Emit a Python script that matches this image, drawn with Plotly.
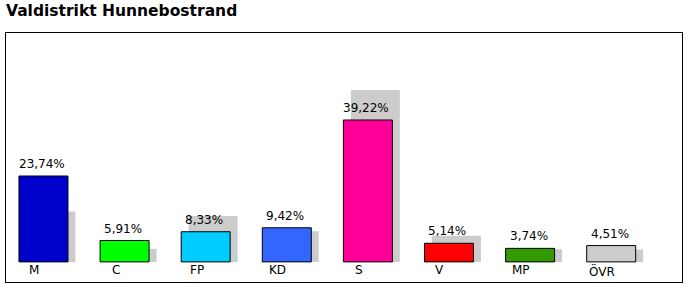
import plotly.graph_objects as go

categories = ["M", "C", "FP", "KD", "S", "V", "MP", "ÖVR"]
values = [23.74, 5.91, 8.33, 9.42, 39.22, 5.14, 3.74, 4.51]
previous = [13.9, 3.6, 12.7, 8.5, 47.5, 7.2, 3.5, 3.4]
colors = ["#0000cc", "#00ff00", "#00ccff", "#3366ff", "#ff0099", "#ff0000", "#339900", "#cccccc"]
value_labels = ["23,74%", "5,91%", "8,33%", "9,42%", "39,22%", "5,14%", "3,74%", "4,51%"]

W, H = 688, 287
xs = list(range(len(categories)))
FONT = "DejaVu Sans, Verdana, sans-serif"

fig = go.Figure()
fig.add_trace(go.Bar(
    x=xs, y=previous, base=0, width=0.604, offset=-0.21,
    marker=dict(color="#cccccc", line=dict(width=0)),
    hoverinfo="skip", showlegend=False,
))
fig.add_trace(go.Bar(
    x=xs, y=values, base=0, width=0.604, offset=-0.302,
    marker=dict(color=colors, line=dict(color="#000000", width=1)),
    showlegend=False,
))

for i, (v, t, c) in enumerate(zip(values, value_labels, categories)):
    fig.add_annotation(x=i, y=v, xref="x", yref="y", text=t, showarrow=False,
                       xanchor="center", yanchor="bottom", xshift=-1.5, yshift=3,
                       font=dict(family=FONT, size=12, color="#000000"))
    fig.add_annotation(x=i, y=0, xref="x", yref="y", text=c, showarrow=False,
                       xanchor="center", yanchor="top", xshift=-9, yshift=1,
                       font=dict(family=FONT, size=12, color="#000000"))

fig.update_layout(
    width=W, height=H,
    margin=dict(l=6, r=6, t=33, b=5, pad=0),
    paper_bgcolor="#ffffff", plot_bgcolor="#ffffff",
    barmode="overlay",
    title=dict(text="<b>Valdistrikt Hunnebostrand</b>", xref="container", yref="container",
               x=6 / W, xanchor="left", y=1 - 11 / H, yanchor="middle",
               pad=dict(t=0, l=0, r=0, b=0),
               font=dict(family=FONT, size=15.5, color="#000000")),
    xaxis=dict(range=[-0.462, 7.873], showgrid=False, zeroline=False, showticklabels=False,
               ticks="", showline=True, mirror=True, linecolor="#000000", linewidth=1,
               fixedrange=True),
    yaxis=dict(range=[-5.56, 63.27], showgrid=False, zeroline=False, showticklabels=False,
               ticks="", showline=True, mirror=True, linecolor="#000000", linewidth=1,
               fixedrange=True),
)

fig.write_html("out.html", config={"displayModeBar": False})
